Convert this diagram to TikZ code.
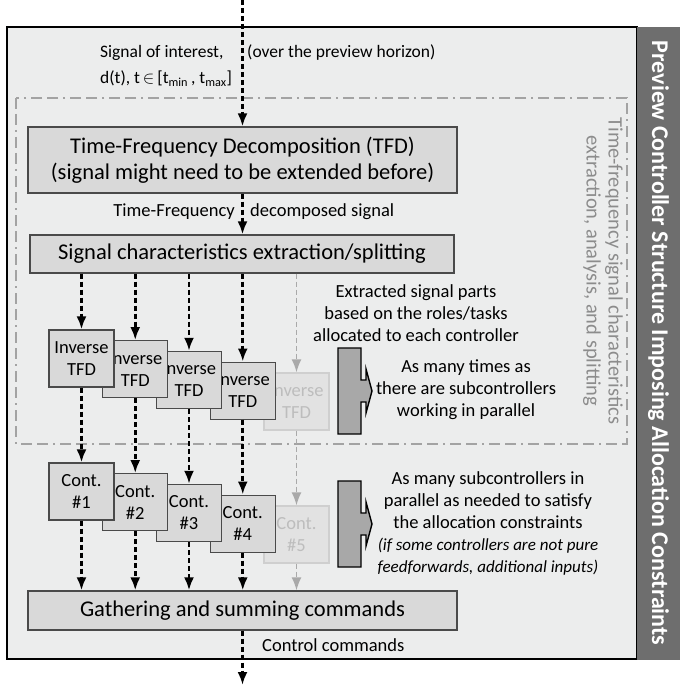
\documentclass[tikz,border=0pt]{standalone}
\usepackage{fontspec}
\setmainfont{Carlito}
\usetikzlibrary{arrows.meta}

\definecolor{panel}{HTML}{ECEDED}
\definecolor{boxfill}{HTML}{D9D9D9}
\definecolor{boxline}{HTML}{4A4A4A}
\definecolor{ghostfill}{HTML}{E2E2E2}
\definecolor{ghostline}{HTML}{CFCFCF}
\definecolor{ghosttext}{HTML}{BDBDBD}
\definecolor{ghostflow}{HTML}{A9A9A9}
\definecolor{band}{HTML}{6E6E6E}
\definecolor{frame}{HTML}{A3A3A3}
\definecolor{tagfill}{HTML}{A8A8A8}

\tikzset{
  bigbox/.style={draw=boxline, fill=boxfill, line width=1.2pt, inner sep=0pt, align=center, font=\fontsize{22.5}{26}\selectfont},
  smallbox/.style={draw=boxline, fill=boxfill, line width=1.2pt, inner sep=0pt, align=center, minimum width=65pt, minimum height=57pt, font=\fontsize{18.5}{22}\selectfont},
  ghostbox/.style={smallbox, draw=ghostline, fill=ghostfill, text=ghosttext},
  note/.style={inner sep=0pt, align=center, font=\fontsize{18.5}{22}\selectfont},
  flow/.style={line width=2.6pt, dash pattern=on 5pt off 3pt, -{Latex[length=13pt,width=10pt]}},
  faintflow/.style={flow, draw=ghostflow, line width=1.8pt},
  tag/.style={draw=black, fill=tagfill, line width=1.4pt, line join=miter}
}

\begin{document}
\begin{tikzpicture}[x=1pt,y=-1pt]
\useasboundingbox (0,0) rectangle (680,687);
\fill[panel] (7,27) rectangle (637,659);
\draw[line width=2.3pt] (7,27) rectangle (637,659);
\fill[band] (637,27) rectangle (680,660);
\node[rotate=-90, text=white, font=\fontsize{24}{28}\bfseries] (title) at (658.5,343) {Preview Controller Structure Imposing Allocation Constraints};

\draw[frame, line width=2.6pt, dash pattern=on 11pt off 5pt on 11pt off 5pt on 2pt off 5pt] (16,98) rectangle (627,444);
\node[note, rotate=-90, text=black!45, font=\fontsize{20.5}{22}\selectfont] (group) at (603,271) {Time-frequency signal characteristics\\extraction, analysis, and splitting};

\node[note, anchor=base west, font=\fontsize{17.5}{22}\selectfont] (soi) at (100,58) {Signal of interest,};
\node[note, anchor=base west, font=\fontsize{17.5}{22}\selectfont] (horizon) at (247,58) {(over the preview horizon)};
\node[note, anchor=base west, font=\fontsize{17.5}{22}\selectfont] (dt) at (100,84) {d(t), t\,$\in$\,[t\textsubscript{min}\,, t\textsubscript{max}]};

\node[bigbox, minimum width=429pt, minimum height=66pt] (tfd) at (242.5,160) {Time-Frequency Decomposition (TFD)\\(signal might need to be extended before)};
\node[note, anchor=base east] (tf) at (235,216) {Time-Frequency};
\node[note, anchor=base west] (dec) at (250,216) {decomposed signal};
\node[bigbox, minimum width=424pt, minimum height=38pt] (split) at (242,254) {Signal characteristics extraction/splitting};

\node[ghostbox] (inv5) at (296.5,401.5) {Inverse\\TFD};
\node[ghostbox] (cont5) at (296.5,534.5) {Cont.\\\#5};
\foreach \i in {4,3,2,1} {
  \node[smallbox] (inv\i) at ({81.5+53.75*(\i-1)},{358.5+10.7*(\i-1)}) {Inverse\\TFD};
  \node[smallbox] (cont\i) at ({81.5+53.75*(\i-1)},{491.5+10.7*(\i-1)}) {Cont.\\\#\i};
}

\node[bigbox, minimum width=429pt, minimum height=39pt] (sum) at (242.5,610.5) {Gathering and summing commands};
\node[note, anchor=base west] (cmd) at (262,651) {Control commands};

\coordinate (src) at (242.5,0);
\coordinate (out) at (242.5,685);
\draw[flow] (src) -- (tfd.north);
\draw[flow] (tfd.south) -- (split.north -| tfd.south);
\foreach \i in {1,...,4} {
  \draw[flow] (split.south -| inv\i.north) -- (inv\i.north);
  \draw[flow] (inv\i.south) -- (cont\i.north);
  \draw[flow] (cont\i.south) -- (sum.north -| cont\i.south);
}
\draw[faintflow] (split.south -| inv5.north) -- (inv5.north);
\draw[faintflow] (inv5.south) -- (cont5.north);
\draw[faintflow] (cont5.south) -- (sum.north -| cont5.south);
\draw[flow] (sum.south) -- (out);

\node[note] (parts) at (416,313) {Extracted signal parts\\based on the roles/tasks\\allocated to each controller};
\node[note] (times) at (466,390) {As many times as\\there are subcontrollers\\working in parallel};
\node[note] (many) at (488,523) {As many subcontrollers in\\parallel as needed to satisfy\\the allocation constraints\\{\itshape\fontsize{17}{21}\selectfont (if some controllers are not pure}\\{\itshape\fontsize{17}{21}\selectfont feedforwards, additional inputs)}};

\foreach \c in {391,524}
  \draw[tag] (338,{\c-43}) -- (361,{\c-43}) -- (361,{\c-11}) -- (366,{\c-11}) -- (366,{\c-22}) -- (372,\c) -- (366,{\c+22}) -- (366,{\c+11}) -- (361,{\c+11}) -- (361,{\c+43}) -- (338,{\c+43}) -- cycle;
\end{tikzpicture}
\end{document}
